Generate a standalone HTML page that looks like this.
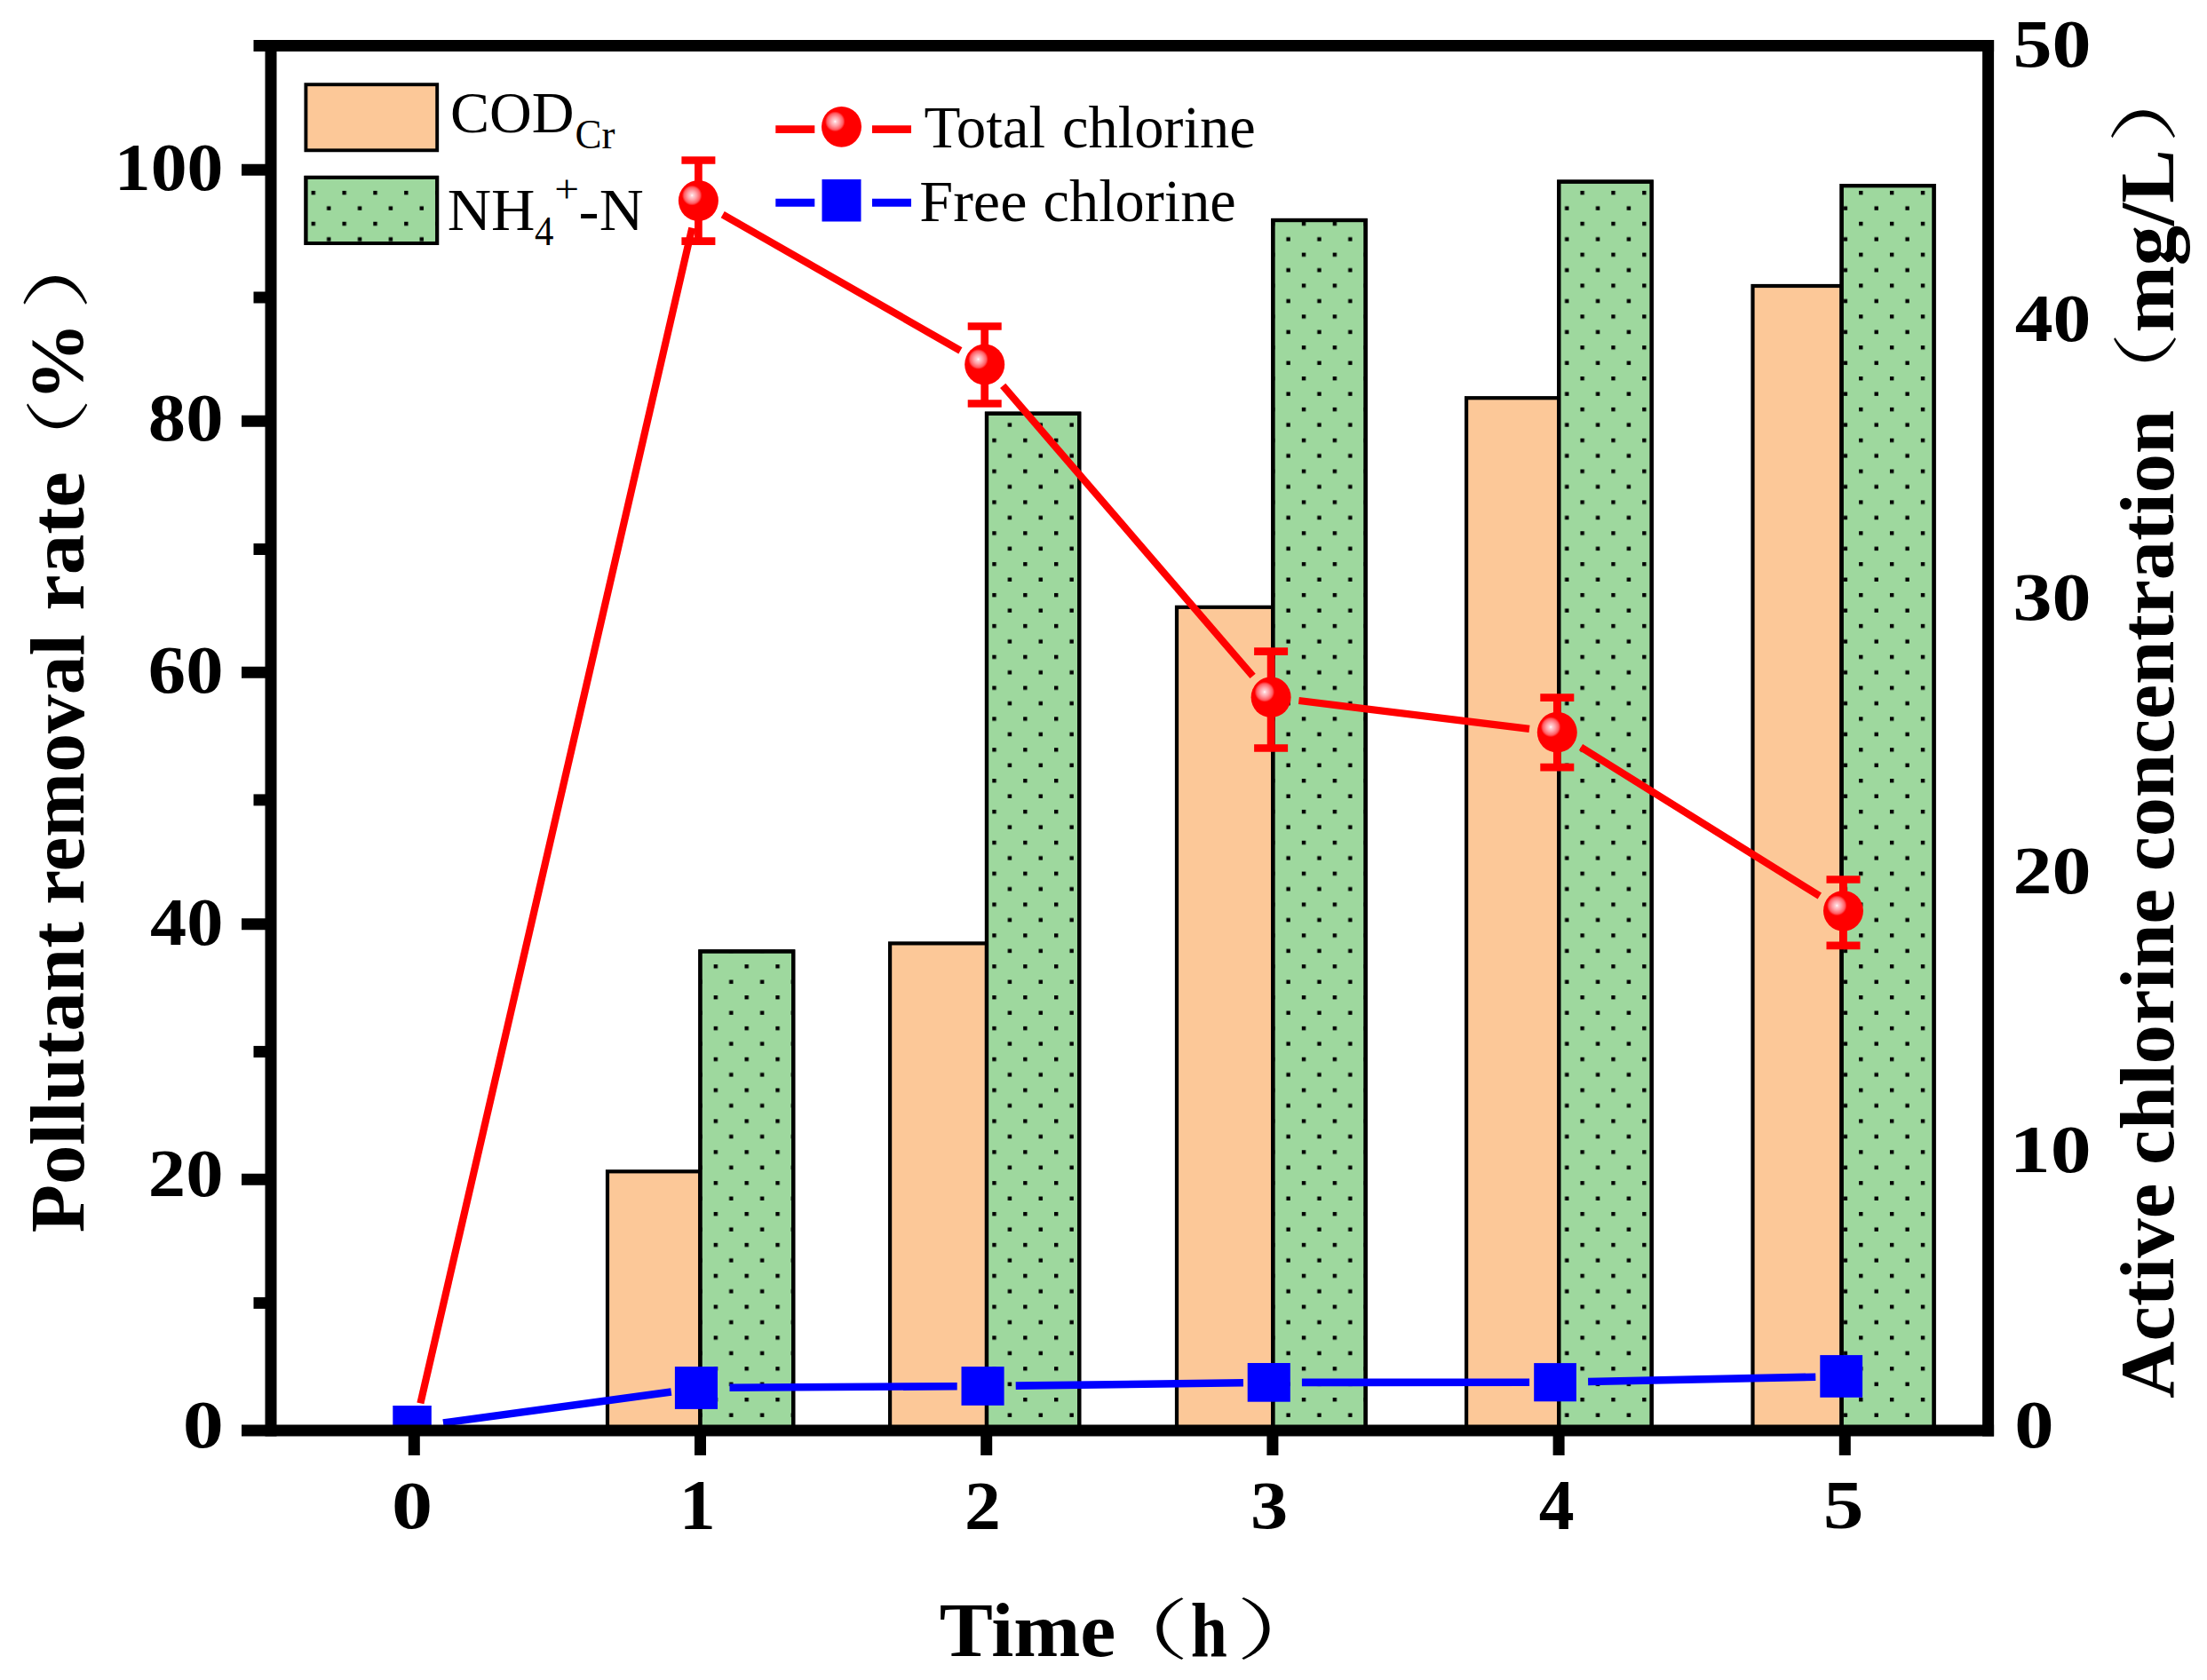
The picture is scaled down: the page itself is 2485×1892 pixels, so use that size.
<!DOCTYPE html>
<html lang="en"><head><meta charset="utf-8"><title>Pollutant removal rate and active chlorine concentration</title>
<style>html,body{margin:0;padding:0;background:#fff}svg{display:block}.b{font-family:"Liberation Serif","Noto Serif CJK SC",serif;font-weight:bold;fill:#000}.r{font-family:"Liberation Serif","Noto Serif CJK SC",serif;font-weight:normal;fill:#000}.p{font-family:"Noto Serif CJK SC","Liberation Serif",serif;font-weight:normal;fill:#000}</style></head><body>
<svg width="2485" height="1892" viewBox="0 0 2485 1892">
<defs>
<radialGradient id="ball" cx="0.34" cy="0.37" r="0.25"><stop offset="0" stop-color="#fff"/><stop offset="0.14" stop-color="#ffd2d6"/><stop offset="0.45" stop-color="#ffa0a6"/><stop offset="0.8" stop-color="#ff5c62"/><stop offset="1" stop-color="#ff0000"/></radialGradient>
<clipPath id="plot"><rect x="305.0" y="51.5" width="1933.6" height="1559.6"/></clipPath>
<pattern id="dots" patternUnits="userSpaceOnUse" width="34.85" height="34.85" patternTransform="translate(350.6 214.9)"><rect x="0" y="0" width="4.4" height="4.4" fill="#000"/><rect x="17.425" y="17.425" width="4.4" height="4.4" fill="#000"/></pattern></defs>
<rect width="2485" height="1892" fill="#fff"/>
<g stroke="#000" stroke-width="4.2" stroke-linejoin="miter">
<rect x="684.0" y="1319.3" width="104.4" height="291.8" fill="#FCC898"/>
<rect x="788.4" y="1071.4" width="104.8" height="539.7" fill="#9ED89E"/>
<rect x="788.4" y="1071.4" width="104.8" height="539.7" fill="url(#dots)"/>
<rect x="1002.1" y="1062.4" width="108.9" height="548.7" fill="#FCC898"/>
<rect x="1111.0" y="465.7" width="104.2" height="1145.4" fill="#9ED89E"/>
<rect x="1111.0" y="465.7" width="104.2" height="1145.4" fill="url(#dots)"/>
<rect x="1325.0" y="683.8" width="108.3" height="927.3" fill="#FCC898"/>
<rect x="1433.3" y="248.0" width="104.3" height="1363.1" fill="#9ED89E"/>
<rect x="1433.3" y="248.0" width="104.3" height="1363.1" fill="url(#dots)"/>
<rect x="1651.1" y="448.2" width="104.1" height="1162.9" fill="#FCC898"/>
<rect x="1755.2" y="204.6" width="104.5" height="1406.5" fill="#9ED89E"/>
<rect x="1755.2" y="204.6" width="104.5" height="1406.5" fill="url(#dots)"/>
<rect x="1973.5" y="322.0" width="100.1" height="1289.1" fill="#FCC898"/>
<rect x="2073.6" y="209.1" width="104.0" height="1402.0" fill="#9ED89E"/>
<rect x="2073.6" y="209.1" width="104.0" height="1402.0" fill="url(#dots)"/>
</g>
<g clip-path="url(#plot)">
<g stroke="#ff0000" stroke-width="8.2" fill="none">
<line x1="473.4" y1="1580.3" x2="779.3" y2="256.7"/>
<line x1="813.7" y1="241.6" x2="1081.4" y2="394.9"/>
<line x1="1129.2" y1="434.4" x2="1410.6" y2="761.3"/>
<line x1="1462.4" y1="789.0" x2="1722.0" y2="820.9"/>
<line x1="1780.0" y1="841.4" x2="2048.8" y2="1009.1"/>
<path stroke-width="8.7" d="M767.4 180.5H805.4M767.4 271.6H805.4M786.4 180.5V271.6"/>
<path stroke-width="8.7" d="M1089.7 367.5H1127.7M1089.7 454.5H1127.7M1108.7 367.5V454.5"/>
<path stroke-width="8.7" d="M1412.1 733.6H1450.1M1412.1 842.5H1450.1M1431.1 733.6V842.5"/>
<path stroke-width="8.7" d="M1734.3 785.6H1772.3M1734.3 864.1H1772.3M1753.3 785.6V864.1"/>
<path stroke-width="8.7" d="M2056.5 990.5H2094.5M2056.5 1064.8H2094.5M2075.5 990.5V1064.8"/>
</g>
<ellipse cx="786.4" cy="226.0" rx="22.5" ry="22.9" fill="url(#ball)"/>
<ellipse cx="1108.7" cy="410.5" rx="22.5" ry="22.9" fill="url(#ball)"/>
<ellipse cx="1431.1" cy="785.2" rx="22.5" ry="22.9" fill="url(#ball)"/>
<ellipse cx="1753.3" cy="824.7" rx="22.5" ry="22.9" fill="url(#ball)"/>
<ellipse cx="2075.5" cy="1025.8" rx="22.5" ry="22.9" fill="url(#ball)"/>
<g stroke="#0000ff" stroke-width="8.6" fill="none">
<line x1="499.0" y1="1602.5" x2="755.8" y2="1567.5"/>
<line x1="821.5" y1="1562.8" x2="1077.7" y2="1561.2"/>
<line x1="1143.7" y1="1560.6" x2="1399.9" y2="1557.3"/>
<line x1="1465.9" y1="1556.9" x2="1722.1" y2="1556.7"/>
<line x1="1788.1" y1="1556.0" x2="2044.3" y2="1550.7"/>
</g>
<rect x="442.3" y="1583.0" width="43.5" height="48.0" fill="#0000ff"/>
<rect x="759.9" y="1539.1" width="48.1" height="47.8" fill="#0000ff"/>
<rect x="1082.5" y="1539.1" width="48.1" height="43.7" fill="#0000ff"/>
<rect x="1404.7" y="1535.0" width="48.1" height="43.7" fill="#0000ff"/>
<rect x="1727.2" y="1535.1" width="47.7" height="43.2" fill="#0000ff"/>
<rect x="2049.3" y="1526.1" width="47.8" height="47.7" fill="#0000ff"/>
</g>
<g stroke="#000" stroke-width="13.0" fill="none" stroke-linecap="butt">
<line x1="305.0" y1="45.0" x2="305.0" y2="1617.6"/>
<line x1="2238.6" y1="45.0" x2="2238.6" y2="1617.6"/>
<line x1="285.5" y1="51.5" x2="2245.1" y2="51.5"/>
<line x1="272" y1="1611.1" x2="2245.1" y2="1611.1"/>
<line x1="272" y1="1328.3" x2="305.0" y2="1328.3"/>
<line x1="272" y1="1040.7" x2="305.0" y2="1040.7"/>
<line x1="272" y1="757.2" x2="305.0" y2="757.2"/>
<line x1="272" y1="474.3" x2="305.0" y2="474.3"/>
<line x1="272" y1="191.3" x2="305.0" y2="191.3"/>
<line x1="285.5" y1="1467.4" x2="305.0" y2="1467.4"/>
<line x1="285.5" y1="1184.4" x2="305.0" y2="1184.4"/>
<line x1="285.5" y1="900.9" x2="305.0" y2="900.9"/>
<line x1="285.5" y1="618.5" x2="305.0" y2="618.5"/>
<line x1="285.5" y1="335.0" x2="305.0" y2="335.0"/>
<line x1="466.3" y1="1611.1" x2="466.3" y2="1639"/>
<line x1="788.5" y1="1611.1" x2="788.5" y2="1639"/>
<line x1="1110.7" y1="1611.1" x2="1110.7" y2="1639"/>
<line x1="1432.9" y1="1611.1" x2="1432.9" y2="1639"/>
<line x1="1755.1" y1="1611.1" x2="1755.1" y2="1639"/>
<line x1="2077.3" y1="1611.1" x2="2077.3" y2="1639"/>
</g>
<g id="labels">
<text class="b" font-size="78" transform="translate(205.65 1630.03) scale(1.1818 0.9736)">0</text>
<text class="b" font-size="78" transform="translate(166.85 1347.03) scale(1.0847 0.9736)">20</text>
<text class="b" font-size="78" transform="translate(169.04 1063.53) scale(1.0554 0.9736)">40</text>
<text class="b" font-size="78" transform="translate(166.85 780.03) scale(1.0847 0.9736)">60</text>
<text class="b" font-size="78" transform="translate(166.85 496.13) scale(1.0847 0.9736)">80</text>
<text class="b" font-size="78" transform="translate(128.82 214.23) scale(1.0472 0.9736)">100</text>
<text class="b" font-size="78" transform="translate(440.95 1721.22) scale(1.1818 0.9849)">0</text>
<text class="b" font-size="78" transform="translate(764.69 1722.20) scale(1.0517 1.0235)">1</text>
<text class="b" font-size="78" transform="translate(1085.96 1722.20) scale(1.0455 1.0038)">2</text>
<text class="b" font-size="78" transform="translate(1408.05 1721.22) scale(1.0818 0.9849)">3</text>
<text class="b" font-size="78" transform="translate(1732.68 1722.20) scale(1.0216 1.0235)">4</text>
<text class="b" font-size="78" transform="translate(2052.78 1721.20) scale(1.1727 1.0038)">5</text>
<text class="b" font-size="78" transform="translate(2268.29 1630.02) scale(1.1364 0.9811)">0</text>
<text class="b" font-size="78" transform="translate(2262.73 1320.42) scale(1.1783 0.9811)">10</text>
<text class="b" font-size="78" transform="translate(2266.41 1006.02) scale(1.1292 0.9811)">20</text>
<text class="b" font-size="78" transform="translate(2266.41 697.62) scale(1.1292 0.9811)">30</text>
<text class="b" font-size="78" transform="translate(2268.70 383.72) scale(1.0986 0.9811)">40</text>
<text class="b" font-size="78" transform="translate(2266.41 74.52) scale(1.1292 0.9811)">50</text>
<text class="b" font-size="87.5" transform="translate(1057.67 1865.30) scale(1.0305 1.0000)">Time</text>
<text class="b" font-size="87.5" transform="translate(1340.81 1865.30) scale(0.8444 1.0000)">h</text>
<text class="p" font-size="87.5" transform="translate(1234.10 1863.17) scale(1.2000 0.8537)">（</text>
<text class="p" font-size="87.5" transform="translate(1391.51 1863.17) scale(1.2480 0.8537)">）</text>
<text class="b" font-size="87.5" transform="translate(93.60 1388.21) rotate(-90) scale(1.0137 1.0000)">Pollutant</text>
<text class="b" font-size="87.5" transform="translate(93.60 1018.80) rotate(-90) scale(1.0003 1.0000)">removal</text>
<text class="b" font-size="87.5" transform="translate(93.60 687.68) rotate(-90) scale(1.0404 1.0000)">rate</text>
<text class="p" font-size="87.5" transform="translate(91.74 545.16) rotate(-90) scale(1.1080 0.8329)">（</text>
<text class="b" font-size="87.5" transform="translate(93.07 451.40) rotate(-90) scale(1.0114 0.9667)">%</text>
<text class="p" font-size="87.5" transform="translate(91.40 349.71) rotate(-90) scale(1.2680 0.8744)">）</text>
<text class="b" font-size="87.5" transform="translate(2446.50 1574.72) rotate(-90) scale(1.0166 1.0000)">Active</text>
<text class="b" font-size="87.5" transform="translate(2446.50 1311.95) rotate(-90) scale(1.0156 1.0000)">chlorine</text>
<text class="b" font-size="87.5" transform="translate(2446.50 981.32) rotate(-90) scale(1.0080 1.0000)">concentration</text>
<text class="p" font-size="87.5" transform="translate(2443.67 468.86) rotate(-90) scale(1.0800 0.8537)">（</text>
<text class="b" font-size="87.5" transform="translate(2446.50 374.77) rotate(-90) scale(1.0356 1.0000)">mg/L</text>
<text class="p" font-size="87.5" transform="translate(2443.48 161.94) rotate(-90) scale(1.2400 0.8780)">）</text>
<text class="r" font-size="66" transform="translate(506.99 148.90) scale(1.0022 0.9955)">COD</text>
<text class="r" font-size="44" transform="translate(647.56 167.10) scale(1.0214 1.0379)">Cr</text>
<text class="r" font-size="66" transform="translate(503.73 258.80) scale(1.0359 1.0186)">NH</text>
<text class="r" font-size="44" transform="translate(602.02 276.00) scale(0.9750 1.0552)">4</text>
<text class="r" font-size="44" transform="translate(624.26 227.86) scale(1.1190 0.9909)">+</text>
<text class="r" font-size="66" transform="translate(651.60 258.80) scale(1.0485 1.0186)">-N</text>
<text class="r" font-size="66" transform="translate(1040.48 166.37) scale(1.0152 1.0319)">Total</text>
<text class="r" font-size="66" transform="translate(1195.99 166.37) scale(1.0066 1.0319)">chlorine</text>
<text class="r" font-size="66" transform="translate(1035.23 249.21) scale(1.0336 0.9932)">Free</text>
<text class="r" font-size="66" transform="translate(1174.59 249.17) scale(1.0042 1.0277)">chlorine</text>
</g>
<g stroke="#000" stroke-width="3.9">
<rect x="344.4" y="95.2" width="147.8" height="74.1" fill="#FCC898"/>
<rect x="344.4" y="199.8" width="147.8" height="74.2" fill="#9ED89E"/>
<rect x="344.4" y="199.8" width="147.8" height="74.2" fill="url(#dots)"/>
</g>
<g stroke="#ff0000" stroke-width="8.8"><line x1="873.3" y1="145.7" x2="917.3" y2="145.7"/><line x1="982" y1="145.7" x2="1026" y2="145.7"/></g>
<ellipse cx="947.5" cy="142.8" rx="22.5" ry="22.9" fill="url(#ball)"/>
<g stroke="#0000ff" stroke-width="9"><line x1="873.3" y1="228.2" x2="917.3" y2="228.2"/><line x1="982" y1="228.2" x2="1026" y2="228.2"/></g>
<rect x="925.5" y="202" width="44" height="47.5" fill="#0000ff"/>
</svg></body></html>
